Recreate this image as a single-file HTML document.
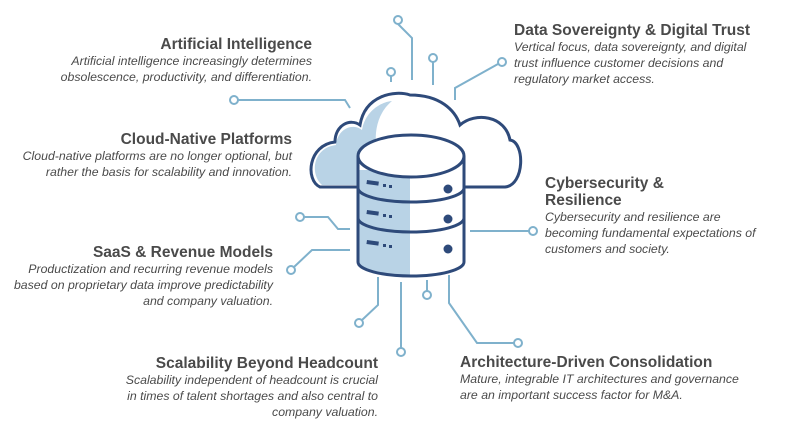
<!DOCTYPE html>
<html><head><meta charset="utf-8"><style>
body{margin:0;width:789px;height:432px;background:#fff;position:relative;overflow:hidden;font-family:"Liberation Sans",sans-serif;color:#454545}
.t{position:absolute;white-space:nowrap;line-height:16px}
.h{font-weight:bold;font-size:15.5px;color:#4a4a4a;line-height:17px}
.d{font-style:italic;font-size:12.3px;color:#4a4a4a}
.r{text-align:right}
svg{position:absolute;left:0;top:0}
</style></head><body>
<svg width="789" height="432" viewBox="0 0 789 432">
<g fill="none" stroke="#7fb1cc" stroke-width="2">
<path d="M398 24 L412 38 L412 80"/><circle cx="398" cy="20" r="4" fill="#fff"/>
<path d="M433 62 L433 85"/><circle cx="433" cy="58" r="4" fill="#fff"/>
<path d="M391 76 L391 82"/><circle cx="391" cy="72" r="4" fill="#fff"/>
<path d="M498 64 L455 88 L455 100"/><circle cx="502" cy="62" r="4" fill="#fff"/>
<path d="M238 100 L345 100 L350 108"/><circle cx="234" cy="100" r="4" fill="#fff"/>
<path d="M304 217 L328 217 L338 229 L350 229"/><circle cx="300" cy="217" r="4" fill="#fff"/>
<path d="M294 267 L312 250 L350 250"/><circle cx="291" cy="270" r="4" fill="#fff"/>
<path d="M470 231 L529 231"/><circle cx="533" cy="231" r="4" fill="#fff"/>
<path d="M378 277 L378 305 L362 320"/><circle cx="359" cy="323" r="4" fill="#fff"/>
<path d="M401 282 L401 348"/><circle cx="401" cy="352" r="4" fill="#fff"/>
<path d="M427 280 L427 291"/><circle cx="427" cy="295" r="4" fill="#fff"/>
<path d="M449 275 L449 303 L477 343 L514 343"/><circle cx="518" cy="343" r="4" fill="#fff"/>
</g>
<path d="M320 187 C305 180 308 145 335 142 C335 125 350 118 360 125 C365 95 395 90 410 95 C440 95 455 110 460 125 C475 112 505 115 510 140 C525 142 525 185 505 187 Z" fill="#fff" stroke="#2e4a7a" stroke-width="3"/>
<path d="M322 185 C310 175 312 148 336 145 C337 130 352 122 362 130 C365 112 380 102 392 101 C375 115 372 140 380 160 L360 185 Z" fill="#b9d3e6"/>
<path d="M358 156 L358 262 A53 14 0 0 0 464 262 L464 156 Z" fill="#fff"/>
<path d="M358 170 L358 262 A53 14 0 0 0 410 276 L410 170 Z" fill="#b9d3e6"/>
<g fill="none" stroke="#2e4a7a" stroke-width="3">
<ellipse cx="411" cy="156" rx="53" ry="21" fill="#fff"/>
<path d="M358 156 L358 262 A53 14 0 0 0 464 262 L464 156"/>
<path d="M358 188 A53 14 0 0 0 464 188"/>
<path d="M358 218 A53 14 0 0 0 464 218"/>
</g>
<g fill="#2e4a7a">
<rect x="367" y="180" width="12" height="4" transform="rotate(8 367 180)"/><rect x="383" y="184" width="3" height="3"/><rect x="389" y="185" width="3" height="3"/>
<rect x="367" y="210" width="12" height="4" transform="rotate(8 367 210)"/><rect x="383" y="214" width="3" height="3"/><rect x="389" y="215" width="3" height="3"/>
<rect x="367" y="240" width="12" height="4" transform="rotate(8 367 240)"/><rect x="383" y="244" width="3" height="3"/><rect x="389" y="245" width="3" height="3"/>
<circle cx="448" cy="189" r="4.5"/><circle cx="448" cy="219" r="4.5"/><circle cx="448" cy="249" r="4.5"/>
</g>
</svg>
<div class="t r" style="right:477px;top:36px"><div class="h">Artificial Intelligence</div><div class="d">Artificial intelligence increasingly determines<br>obsolescence, productivity, and differentiation.</div></div>
<div class="t r" style="right:497px;top:131px"><div class="h">Cloud-Native Platforms</div><div class="d">Cloud-native platforms are no longer optional, but<br>rather the basis for scalability and innovation.</div></div>
<div class="t r" style="right:516px;top:244px"><div class="h">SaaS &amp; Revenue Models</div><div class="d">Productization and recurring revenue models<br>based on proprietary data improve predictability<br>and company valuation.</div></div>
<div class="t r" style="right:411px;top:355px"><div class="h">Scalability Beyond Headcount</div><div class="d">Scalability independent of headcount is crucial<br>in times of talent shortages and also central to<br>company valuation.</div></div>
<div class="t" style="left:514px;top:22px"><div class="h">Data Sovereignty &amp; Digital Trust</div><div class="d">Vertical focus, data sovereignty, and digital<br>trust influence customer decisions and<br>regulatory market access.</div></div>
<div class="t" style="left:545px;top:175px"><div class="h">Cybersecurity &amp;<br>Resilience</div><div class="d">Cybersecurity and resilience are<br>becoming fundamental expectations of<br>customers and society.</div></div>
<div class="t" style="left:460px;top:354px"><div class="h">Architecture-Driven Consolidation</div><div class="d">Mature, integrable IT architectures and governance<br>are an important success factor for M&amp;A.</div></div>
</body></html>
